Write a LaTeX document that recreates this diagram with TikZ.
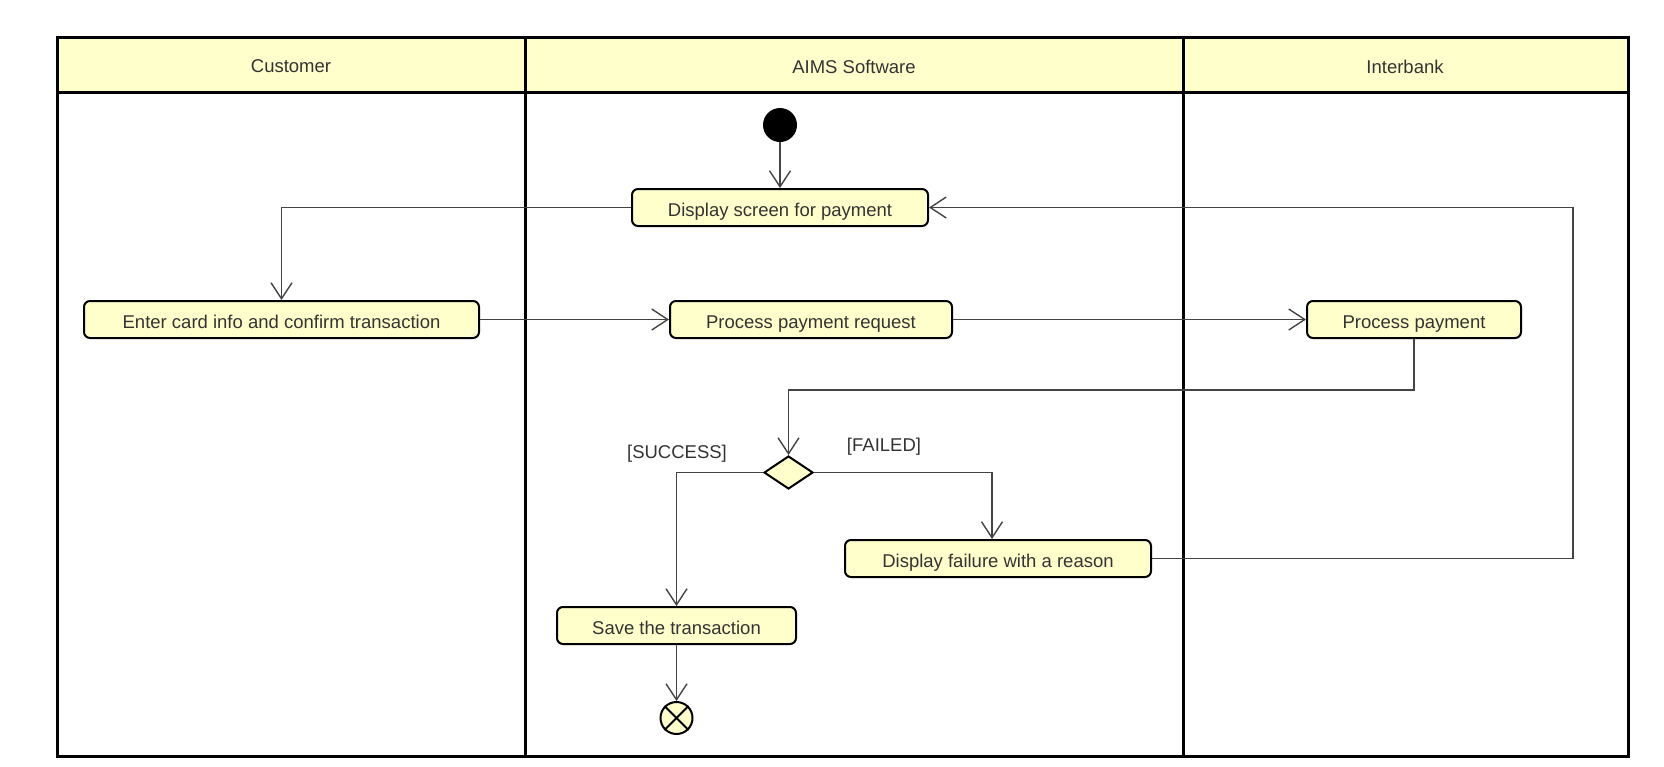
\documentclass[tikz,border=0pt]{standalone}
\usepackage{fontspec}
\setmainfont{Liberation Sans}
\usetikzlibrary{arrows.meta,shapes.geometric}
\definecolor{boxfill}{HTML}{FFFFCC}
\definecolor{txtclr}{HTML}{333333}
\definecolor{lineclr}{HTML}{444444}
\begin{document}
\begin{tikzpicture}[x=1pt,y=-1pt,
  act/.style={draw=black, line width=2pt, fill=boxfill, rounded corners=6pt,
    minimum height=37pt, inner sep=0pt, text height=17pt, text depth=0pt,
    font=\fontsize{18.5}{22}\selectfont, text=txtclr},
  flow/.style={draw=lineclr, line width=1.4pt, -{Straight Barb[length=16pt,width=21pt]}},
  lbl/.style={font=\fontsize{18.5}{22}\selectfont, text=txtclr, inner sep=0pt},
  lane/.style={draw=black, line width=3pt}]
\useasboundingbox (0,0) rectangle (1664,766);
% swimlane frame
\fill[white] (0,0) rectangle (1664,766);
\path[fill=boxfill] (57,37) rectangle (1628,92);
\draw[lane] (57,37) rectangle (1628,756);
\draw[lane] (57,92) -- (1628,92);
\draw[lane] (525,37) -- (525,756);
\draw[lane] (1183,37) -- (1183,756);
\node[lbl] (h1) at (291,66.5) {Customer};
\node[lbl] (h2) at (854,66.5) {AIMS Software};
\node[lbl] (h3) at (1405,66.5) {Interbank};
% nodes
\node[circle, fill=black, minimum size=34pt, inner sep=0pt] (start) at (780,125) {};
\node[act, minimum width=296pt] (disp) at (780,207.5) {Display screen for payment};
\node[act, minimum width=395pt] (enter) at (281.5,319.5) {Enter card info and confirm transaction};
\node[act, minimum width=282pt] (ppr) at (811,319.5) {Process payment request};
\node[act, minimum width=214pt] (pp) at (1414,319.5) {Process payment};
\node[diamond, draw=black, line width=2pt, fill=boxfill, minimum width=49pt,
  minimum height=33pt, inner sep=0pt] (dia) at (788.5,472.5) {};
\node[act, minimum width=306pt] (fail) at (998,558.5) {Display failure with a reason};
\node[act, minimum width=239pt] (save) at (676.5,625.5) {Save the transaction};
\node[circle, draw=black, line width=2pt, fill=boxfill, minimum size=32pt, inner sep=0pt] (end) at (676.5,718) {};
\draw[black, line width=2pt] (end.north west) -- (end.south east) (end.north east) -- (end.south west);
\coordinate (loop) at (1573,0);
\coordinate (failin) at (992,0);
% labels
\node[lbl] (succ) at (677,454) {[SUCCESS]};
\node[lbl] (failed) at (884,447) {[FAILED]};
% connectors
\draw[flow] (start) -- (disp);
\draw[flow] (disp.west) -| (enter.north);
\draw[flow] (enter) -- (ppr);
\draw[flow] (ppr) -- (pp);
\draw[flow] (pp.south) -- ++(0,51) -| (dia.north);
\draw[flow] (dia.west) -| (save.north);
\draw[flow] (dia.east) -| (failin |- fail.north);
\draw[flow] (fail.east) -- (fail.east -| loop) |- (disp.east);
\draw[flow] (save) -- (end);
\end{tikzpicture}
\end{document}
